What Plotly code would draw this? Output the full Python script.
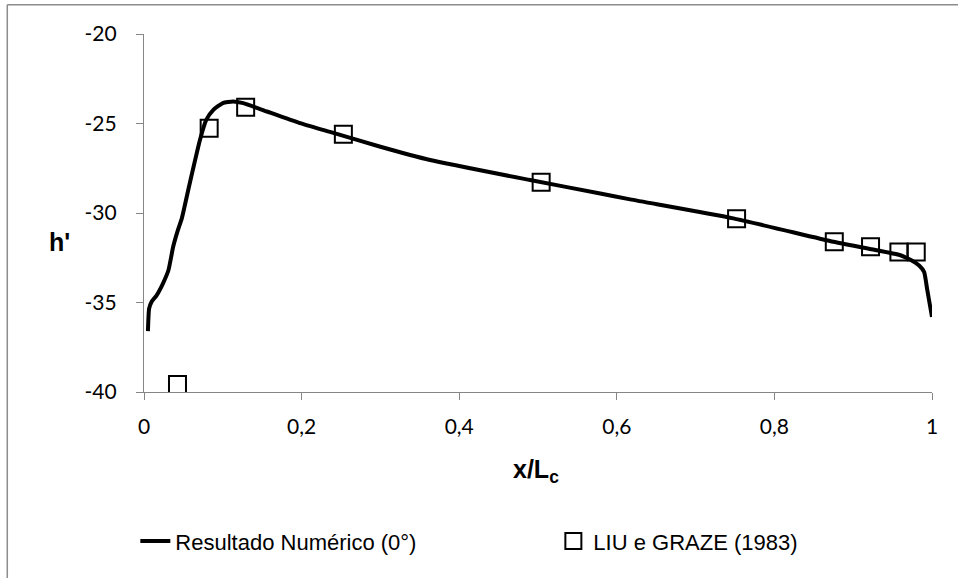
import plotly.graph_objects as go

# Numerical solution along the chord (x/Lc, h')
num_x = [0.005, 0.0065, 0.0095, 0.016, 0.024, 0.031, 0.037, 0.043, 0.048,
         0.058, 0.071, 0.079, 0.088, 0.100, 0.113, 0.126, 0.156, 0.198,
         0.236, 0.30, 0.363, 0.49, 0.579, 0.617, 0.748, 0.875, 0.920,
         0.960, 0.972, 0.984, 0.990, 0.994, 1.0]
num_y = [-36.6, -35.34, -34.97, -34.6, -33.94, -33.2, -31.89, -30.96, -30.3,
         -28.35, -25.92, -24.8, -24.24, -23.86, -23.77, -23.86, -24.33, -24.98,
         -25.47, -26.3, -27.04, -28.16, -28.91, -29.24, -30.3, -31.61, -32.0,
         -32.36, -32.6, -32.95, -33.3, -34.3, -35.81]

# Experimental data, LIU e GRAZE (1983)
exp_x = [0.0425, 0.0827, 0.129, 0.253, 0.504, 0.752, 0.876, 0.922, 0.958, 0.980]
exp_y = [-39.58, -25.27, -24.09, -25.6, -28.28, -30.32, -31.6, -31.89, -32.18, -32.18]

# Axis ticks
x_ticks = [0, 0.2, 0.4, 0.6, 0.8, 1.0]
y_ticks = [-40, -35, -30, -25, -20]
y_tick_text = ["-40", "-35", "-30", "-25", "-20"]

series_names = ["Resultado Numérico (0°)", "LIU e GRAZE (1983)"]

fig = go.Figure()
fig.add_trace(go.Scatter(
    x=num_x, y=num_y, mode="lines", name=series_names[0], legend="legend",
    line=dict(color="black", width=4, shape="spline", smoothing=0.5),
))
fig.add_trace(go.Scatter(
    x=exp_x, y=exp_y, mode="markers", name=series_names[1], legend="legend2",
    marker=dict(symbol="square-open", size=17, color="black",
                line=dict(color="black", width=2)),
))

axis_common = dict(
    showgrid=False, zeroline=False, showline=True,
    linecolor="#868686", linewidth=1.3,
    ticks="outside", ticklen=7, tickcolor="#868686", tickwidth=1.3,
    tickfont=dict(family="Lato, Carlito, sans-serif", size=21, color="black"),
)

fig.update_xaxes(range=[0, 1], tickvals=x_ticks, ticklabelstandoff=9, **axis_common)
fig.update_yaxes(range=[-40, -20], tickvals=y_ticks, ticktext=y_tick_text,
                 ticklabelstandoff=15, **axis_common)

legend_font = dict(family="Liberation Sans, Arial, sans-serif", size=22, color="black")

fig.update_layout(
    width=958, height=578,
    margin=dict(l=144, r=26, t=34, b=186),
    paper_bgcolor="white", plot_bgcolor="white",
    separators=", ",
    showlegend=True,
    legend=dict(orientation="h", x=-0.011, xanchor="left", y=-0.417, yanchor="middle",
                font=legend_font, bgcolor="rgba(0,0,0,0)"),
    legend2=dict(orientation="h", x=0.5195, xanchor="left", y=-0.417, yanchor="middle",
                 font=legend_font, bgcolor="rgba(0,0,0,0)"),
    annotations=[
        dict(text="<b>h'</b>", xref="paper", yref="paper",
             x=-0.1066, y=0.42, xanchor="center", yanchor="middle", showarrow=False,
             font=dict(family="Liberation Sans, Arial, sans-serif", size=25, color="black")),
        dict(text="<b>x/L<sub>c</sub></b>", xref="paper", yref="paper",
             x=0.498, y=-0.221, xanchor="center", yanchor="middle", showarrow=False,
             font=dict(family="Liberation Sans, Arial, sans-serif", size=25, color="black")),
    ],
    shapes=[
        # chart area frame (left and top edges)
        dict(type="line", xref="paper", yref="paper",
             x0=-0.1735, x1=-0.1735, y0=1.082, y1=-0.6,
             line=dict(color="#8c8c8c", width=1.5)),
        dict(type="line", xref="paper", yref="paper",
             x0=-0.1735, x1=1.1, y0=1.082, y1=1.082,
             line=dict(color="#8c8c8c", width=1.5)),
    ],
)

fig.write_html("out.html", config={"displayModeBar": False})
